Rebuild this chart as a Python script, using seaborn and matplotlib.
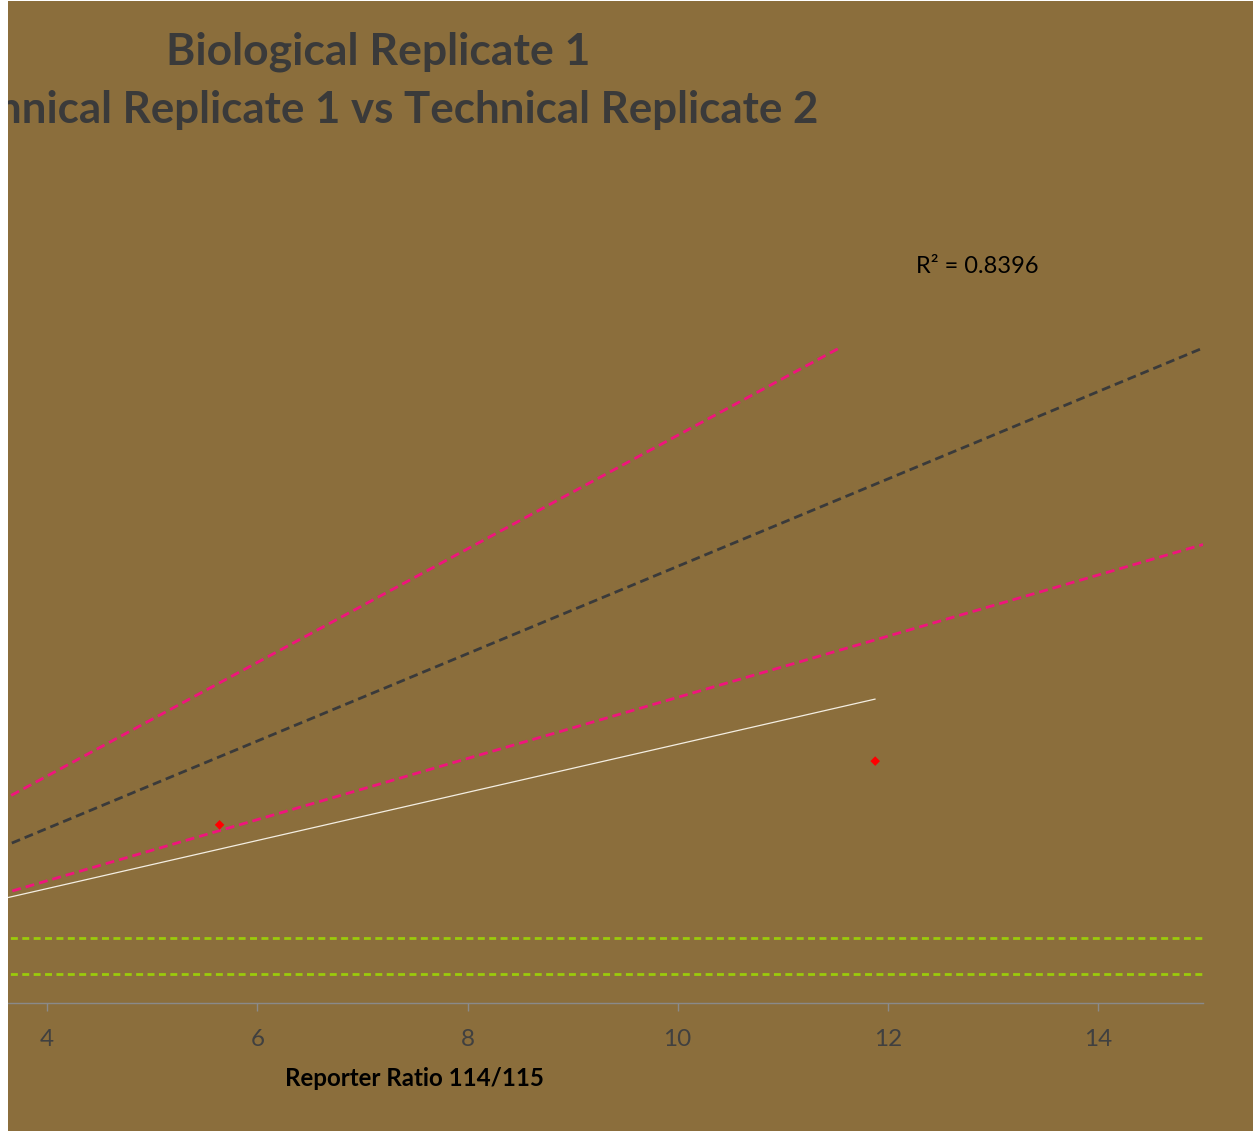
import matplotlib
matplotlib.use("Agg")
import matplotlib.pyplot as plt
from matplotlib.patches import Rectangle
import seaborn as sns
import pandas as pd

# ---------------- data ----------------
point_x = [5.64, 11.88]
point_y = [4.08, 5.54]

trend_x = [3.0, 11.88]
trend_y = [2.07, 6.96]
r2_label = "R² = 0.8396"

ref_x = [0, 15]
identity_y = [0, 15]
upper_y = [0, 19.5]     # +30 %
lower_y = [0, 10.5]     # -30 %

thresholds = [1.5, 0.667]

x_ticks = [4, 6, 8, 10, 12, 14]
x_label = "Reporter Ratio 114/115"
title_1 = "Biological Replicate 1"
title_2 = "Technical Replicate 1 vs Technical Replicate 2"

# ---------------- style ----------------
sns.set_style("white")
plt.rcParams["font.family"] = ["Lato", "DejaVu Sans"]

W, H = 1253, 1131
BG = "#8B6E3C"
PINK = "#F0147D"
DARK = "#3A3A3A"
GREEN = "#9BCB0B"

fig = plt.figure(figsize=(W / 100, H / 100), dpi=100, facecolor="white")
fig.patches.append(Rectangle((8 / W, 0), 1 - 8 / W, 1 - 1 / H,
                             transform=fig.transFigure, facecolor=BG,
                             edgecolor="none", zorder=-10))

left_px, right_px = -373, 1203
bottom_px, top_px = 1003, 348
ax = fig.add_axes([left_px / W, (H - bottom_px) / H,
                   (right_px - left_px) / W, (bottom_px - top_px) / H])
ax.set_facecolor("none")

df_ref = pd.DataFrame({"x": ref_x, "id": identity_y, "up": upper_y, "lo": lower_y})
df_trend = pd.DataFrame({"x": trend_x, "y": trend_y})
df_pts = pd.DataFrame({"x": point_x, "y": point_y})

for y in thresholds:
    ax.axhline(y, color=GREEN, lw=2.0, dashes=(2.5, 1.6), zorder=2)

sns.lineplot(data=df_ref, x="x", y="up", ax=ax, color=PINK, lw=2.0, zorder=3)
sns.lineplot(data=df_ref, x="x", y="lo", ax=ax, color=PINK, lw=2.0, zorder=3)
sns.lineplot(data=df_ref, x="x", y="id", ax=ax, color=DARK, lw=2.0, zorder=3)
for ln in ax.get_lines()[-3:]:
    ln.set_dashes((3.2, 1.8))
sns.lineplot(data=df_trend, x="x", y="y", ax=ax, color="#F4EEE2", lw=0.9, zorder=4)
sns.scatterplot(data=df_pts, x="x", y="y", ax=ax, color="#FF0000", marker="D",
                s=24, edgecolor="none", zorder=5)

ax.set_xlim(0, 15)
ax.set_ylim(0, 15)
ax.set_xticks(x_ticks)
ax.set_xticklabels([str(t) for t in x_ticks])
ax.set_yticks([])
ax.set_ylabel("")
ax.set_xlabel("")
for s in ["top", "right", "left"]:
    ax.spines[s].set_visible(False)
ax.spines["bottom"].set_color("#8A8A8A")
ax.spines["bottom"].set_linewidth(1.0)
ax.tick_params(axis="x", direction="out", length=6, width=1, color="#8A8A8A",
               labelsize=17.5, labelcolor="#404040", pad=13, bottom=True)

fig.text(414 / W, 1 - 1078 / H, x_label, ha="center", va="center",
         fontsize=17.4, fontweight="bold", color="black")
fig.text(378 / W, 1 - 52 / H, title_1, ha="center", va="center",
         fontsize=32, fontweight="bold", color=DARK)
fig.text(372 / W, 1 - 110 / H, title_2, ha="center", va="center",
         fontsize=31.6, fontweight="bold", color=DARK)
fig.text(977 / W, 1 - 267 / H, r2_label, ha="center", va="center",
         fontsize=17, color="black")

# white strip at the left edge, covering everything (the reference is cropped there)
fig.patches.append(Rectangle((0, 0), 8 / W, 1, transform=fig.transFigure,
                             facecolor="white", edgecolor="none", zorder=50))

fig.savefig("out.png", dpi=100, facecolor=fig.get_facecolor())
